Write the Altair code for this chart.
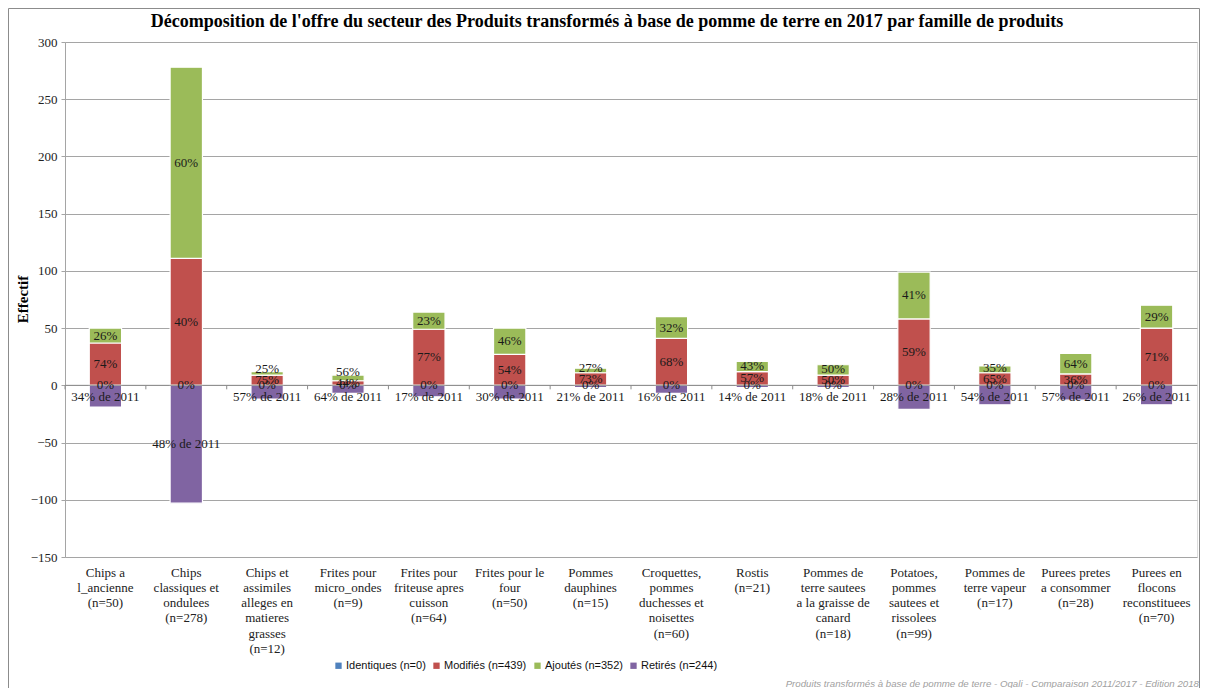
import altair as alt
import pandas as pd

# ---------------- data ----------------
categories = [
    "Chips a l_ancienne", "Chips classiques et ondulees",
    "Chips et assimiles alleges en matieres grasses", "Frites pour micro_ondes",
    "Frites pour friteuse apres cuisson", "Frites pour le four", "Pommes dauphines",
    "Croquettes, pommes duchesses et noisettes", "Rostis",
    "Pommes de terre sautees a la graisse de canard",
    "Potatoes, pommes sautees et rissolees", "Pommes de terre vapeur",
    "Purees pretes a consommer", "Purees en flocons reconstituees",
]
tick_labels = [
    "Chips a|l_ancienne|(n=50)",
    "Chips|classiques et|ondulees|(n=278)",
    "Chips et|assimiles|alleges en|matieres|grasses|(n=12)",
    "Frites pour|micro_ondes|(n=9)",
    "Frites pour|friteuse apres|cuisson|(n=64)",
    "Frites pour le|four|(n=50)",
    "Pommes|dauphines|(n=15)",
    "Croquettes,|pommes|duchesses et|noisettes|(n=60)",
    "Rostis|(n=21)",
    "Pommes de|terre sautees|a la graisse de|canard|(n=18)",
    "Potatoes,|pommes|sautees et|rissolees|(n=99)",
    "Pommes de|terre vapeur|(n=17)",
    "Purees pretes|a consommer|(n=28)",
    "Purees en|flocons|reconstituees|(n=70)",
]
identiques = [0, 0, 0, 0, 0, 0, 0, 0, 0, 0, 0, 0, 0, 0]
modifies = [37, 111, 9, 4, 49, 27, 11, 41, 12, 9, 58, 11, 10, 50]
ajoutes = [13, 167, 3, 5, 15, 23, 4, 19, 9, 9, 41, 6, 18, 20]
retires = [19, 103, 12, 7, 10, 12, 2, 7, 2, 2, 21, 17, 13, 17]

pct_ident = ["0%"] * 14
pct_mod = ["74%", "40%", "75%", "44%", "77%", "54%", "73%", "68%", "57%", "50%", "59%", "65%", "36%", "71%"]
pct_add = ["26%", "60%", "25%", "56%", "23%", "46%", "27%", "32%", "43%", "50%", "41%", "35%", "64%", "29%"]
pct_ret = ["34% de 2011", "48% de 2011", "57% de 2011", "64% de 2011", "17% de 2011",
           "30% de 2011", "21% de 2011", "16% de 2011", "14% de 2011", "18% de 2011",
           "28% de 2011", "54% de 2011", "57% de 2011", "26% de 2011"]

series = ["Identiques (n=0)", "Modifiés (n=439)", "Ajoutés (n=352)", "Retirés (n=244)"]
colors = ["#4F81BD", "#C0504D", "#9BBB59", "#8064A2"]

title_text = "Décomposition de l'offre du secteur des Produits transformés à base de pomme de terre en 2017 par famille de produits"
footnote = "Produits transformés à base de pomme de terre - Oqali - Comparaison 2011/2017 - Edition 2018"

# ---------------- tables ----------------
rows = []
for i, lab in enumerate(tick_labels):
    rows.append({"label": lab, "serie": series[1], "value": modifies[i], "ord": 1})
    rows.append({"label": lab, "serie": series[2], "value": ajoutes[i], "ord": 2})
    rows.append({"label": lab, "serie": series[3], "value": -retires[i], "ord": 3})
bars_df = pd.DataFrame(rows)

lab_rows = []
for i, lab in enumerate(tick_labels):
    m, a, r = modifies[i], ajoutes[i], retires[i]
    y_mod = m / 2
    y_add = max(m + a / 2, y_mod + 10)
    y_ret = min(-r / 2, -10.5)
    lab_rows.append({"label": lab, "y": y_mod, "t": pct_mod[i]})
    lab_rows.append({"label": lab, "y": y_add, "t": pct_add[i]})
    lab_rows.append({"label": lab, "y": 0, "t": pct_ident[i]})
    lab_rows.append({"label": lab, "y": y_ret, "t": pct_ret[i]})
labels_df = pd.DataFrame(lab_rows)
ticks_df = pd.DataFrame({"label": tick_labels})

SERIF = "Liberation Serif"
SANS = "Liberation Sans"
GRID = "#a5a5a5"

x_enc = alt.X(
    "label:N", sort=tick_labels, title=None,
    scale=alt.Scale(paddingInner=0, paddingOuter=0),
    axis=alt.Axis(labelExpr="split(datum.label, '|')", labelAngle=0, domain=False,
                  ticks=False, labelPadding=9, labelFont=SERIF, labelFontSize=13,
                  labelLineHeight=15.3, labelColor="#222", labelBaseline="top",
                  labelLimit=200),
)
y_scale = alt.Scale(domain=[-150, 300], nice=False)

bars = alt.Chart(bars_df).mark_bar(
    width=alt.RelativeBandSize(0.4), stroke="white", strokeWidth=1.2
).encode(
    x=x_enc,
    y=alt.Y("value:Q", stack="zero", scale=y_scale, title="Effectif",
            axis=alt.Axis(values=list(range(-150, 301, 50)), grid=True, gridColor=GRID,
                          domainColor=GRID, tickColor=GRID, tickSize=4, labelPadding=4,
                          labelFont=SERIF, labelFontSize=13, labelColor="#222",
                          titleFont=SERIF, titleFontSize=15, titleFontWeight="bold",
                          titleColor="#000", titleX=-43, titleY=257, titleAngle=270,
                          titleAlign="center", titleBaseline="middle")),
    color=alt.Color("serie:N", scale=alt.Scale(domain=series, range=colors),
                    legend=alt.Legend(title=None, orient="none", direction="horizontal",
                                      legendX=268, legendY=618, symbolType="square",
                                      symbolSize=40, symbolStrokeWidth=0,
                                      labelFont=SANS, labelFontSize=11, labelColor="#111",
                                      columnPadding=5, labelOffset=2)),
    order=alt.Order("ord:Q"),
)

zero_rule = alt.Chart(pd.DataFrame({"z": [0]})).mark_rule(color="#8c8c8c", strokeWidth=1).encode(
    y=alt.datum(0, scale=y_scale)
)

tick_rules = alt.Chart(ticks_df).mark_rule(color="#8c8c8c", strokeWidth=1).encode(
    x=alt.X("label:N", sort=tick_labels, bandPosition=0, title=None),
    y=alt.datum(0),
    y2=alt.datum(-3.5),
)

texts = alt.Chart(labels_df).mark_text(
    font=SERIF, fontSize=13, color="#1a1a1a", baseline="middle"
).encode(
    x=alt.X("label:N", sort=tick_labels, title=None),
    y=alt.Y("y:Q"),
    text="t:N",
)

title = alt.Chart(pd.DataFrame({"t": [title_text]})).mark_text(
    align="center", baseline="middle", font=SERIF, fontSize=18, fontWeight="bold",
    color="#000"
).encode(x=alt.value(542), y=alt.value(-20), text="t:N")

foot = alt.Chart(pd.DataFrame({"t": [footnote]})).mark_text(
    align="right", baseline="middle", fontStyle="italic", fontSize=9.7,
    font=SANS, color="#a0a0a0"
).encode(x=alt.value(1134), y=alt.value(642), text="t:N")

frame = alt.Chart(pd.DataFrame({"f": [0]})).mark_rect(
    filled=False, stroke="#8c8c8c", strokeWidth=1
).encode(x=alt.value(-56.5), x2=alt.value(1134.5), y=alt.value(-33.5), y2=alt.value(700))

chart = alt.layer(bars, zero_rule, tick_rules, texts, title, foot, frame).properties(
    width=1132, height=515,
    autosize=alt.AutoSizeParams(type="none"),
    padding={"left": 57, "top": 34, "right": 3, "bottom": 131},
).configure_view(stroke=None).configure(background="white")

chart.save("out.html", embed_options={"renderer": "svg", "actions": False})
